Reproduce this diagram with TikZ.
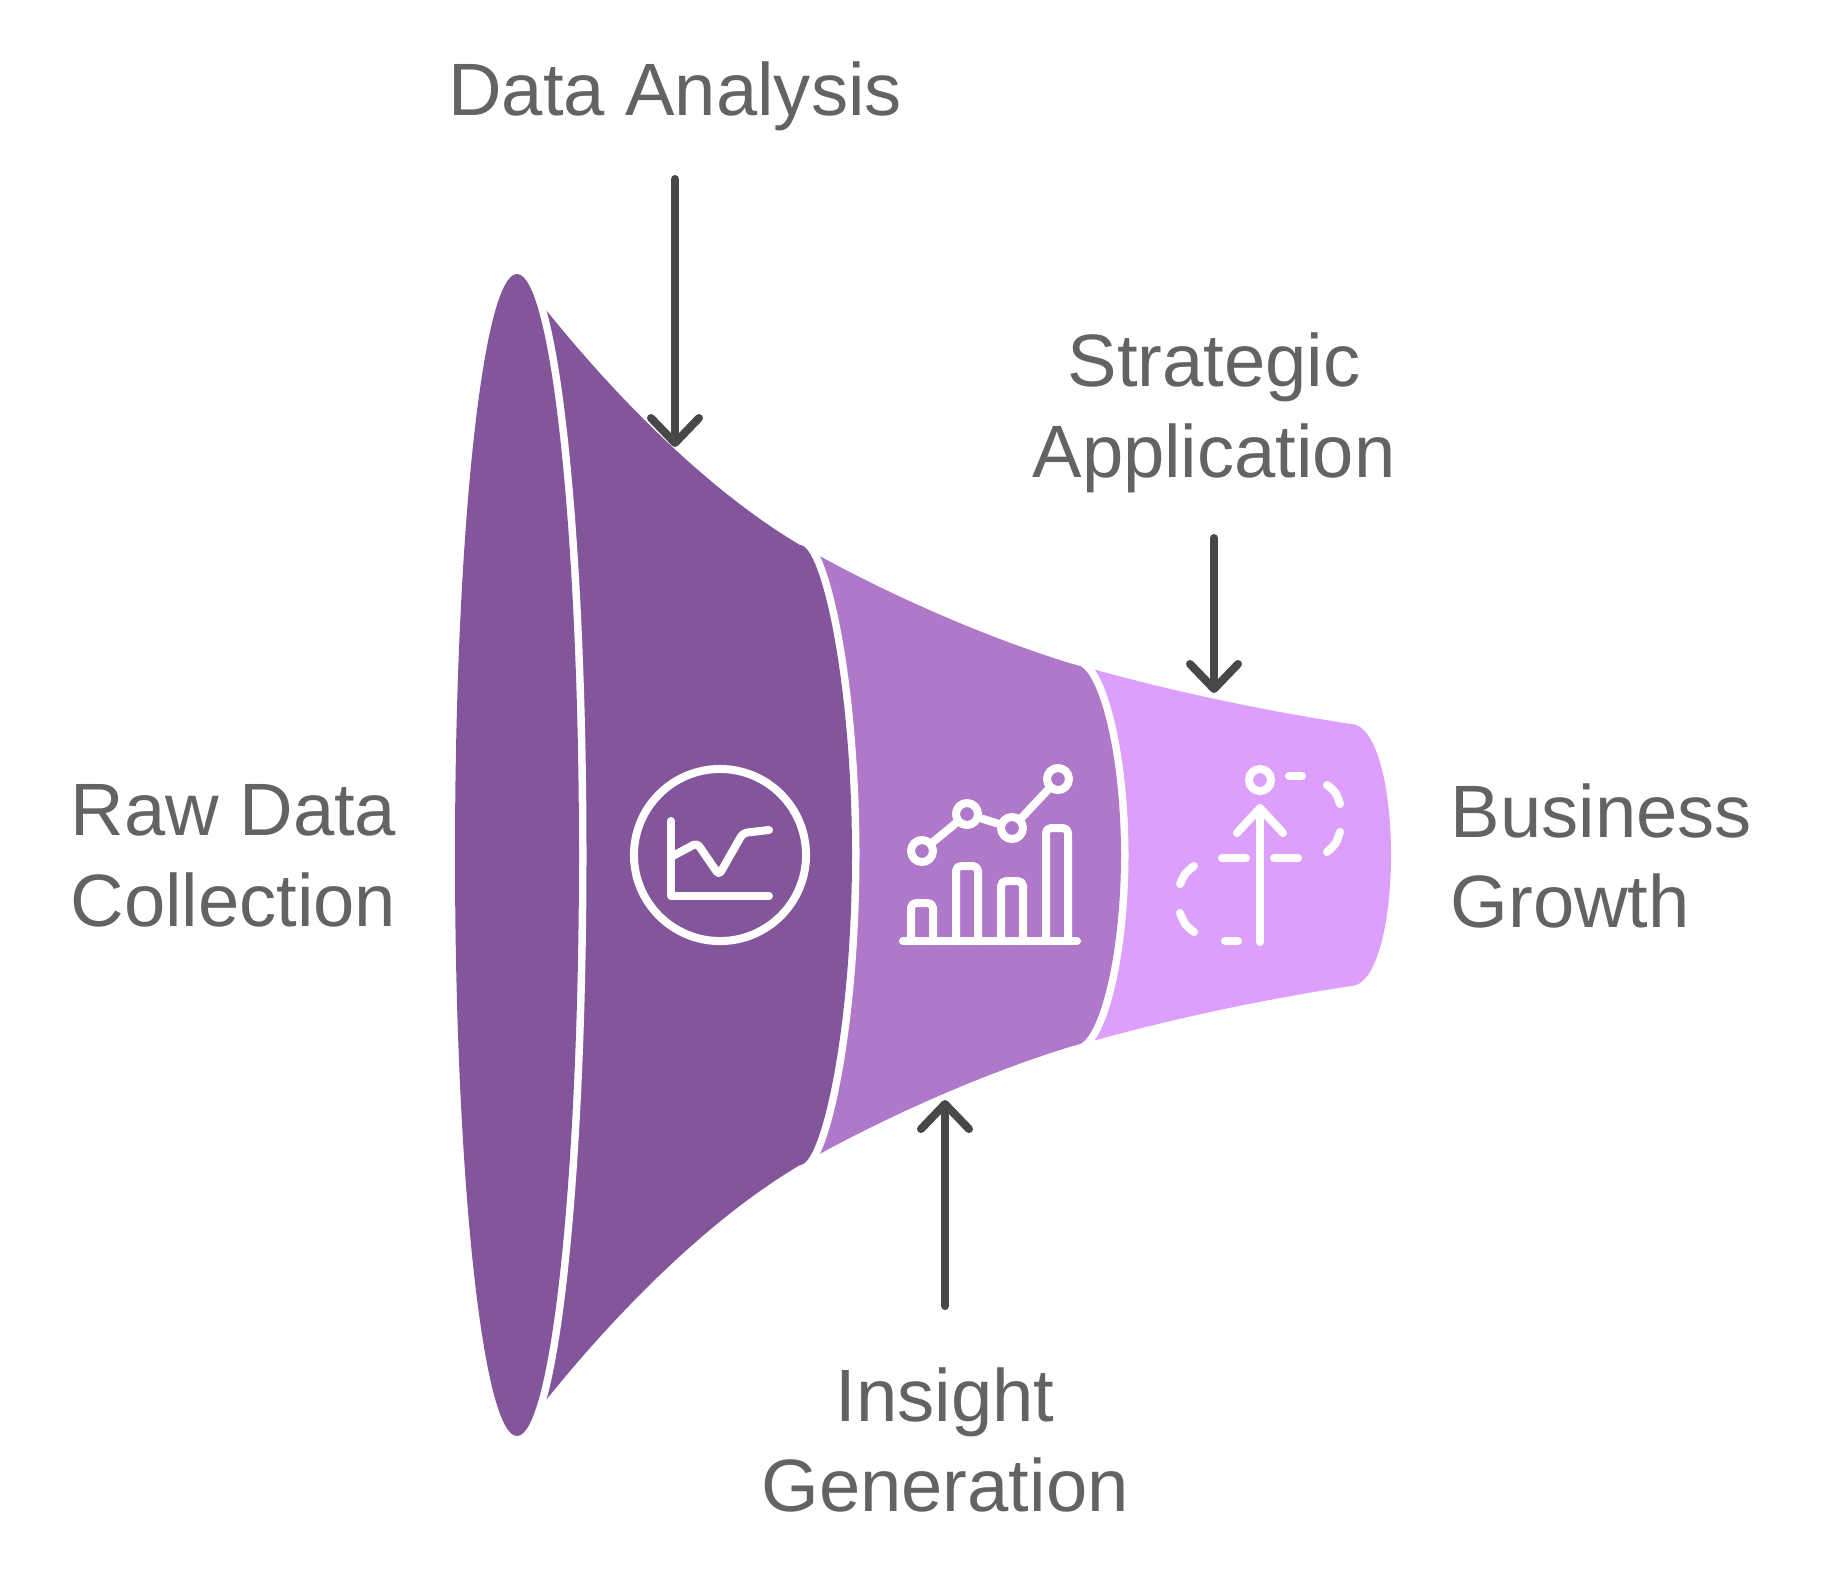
\documentclass[tikz,border=0pt]{standalone}
\usepackage{fontspec}
\setmainfont{Liberation Sans}
\usetikzlibrary{arrows.meta}
\definecolor{funnelA}{HTML}{83559A}
\definecolor{funnelB}{HTML}{AF78C9}
\definecolor{funnelC}{HTML}{DC9FFB}
\definecolor{labeltext}{HTML}{636363}
\definecolor{arrowgray}{HTML}{484848}
\tikzset{
	label text/.style={text=labeltext,inner sep=0pt,font=\fontsize{21.1}{25.8}\selectfont},
	flow/.style={draw=arrowgray,line width=0.08cm,line cap=round,-{Straight Barb[length=0.25cm,width=0.48cm,round]}},
	stripe/.style={draw=white,line width=0.15cm},
	icon/.style={draw=white,line width=0.08cm,line cap=round,line join=round},
	dot/.style={circle,icon,inner sep=0pt,minimum size=0.22cm},
}
\begin{document}
\begin{tikzpicture}[x=0.01cm,y=-0.01cm]
		\useasboundingbox (0,0) rectangle (1845,1575);
		\foreach \xa/\ya/\xb/\yb/\xc/\yc/\xd/\yd/\rx/\k/\col in {
			1075/664/1165/690/1260/710/1351/724/40/0.6/funnelC,
			800/545/850/574/960/630/1076/665/45/0.48/funnelB,
			525/283/585/362/690/480/800/545/52/0.42/funnelA}{
			\draw[stripe] (\xd,\yd) .. controls (\xd+\k*\rx,\yd) and (\xd+\rx,855-0.55*855+0.55*\yd) .. (\xd+\rx,855)
				.. controls (\xd+\rx,855+0.55*855-0.55*\yd) and (\xd+\k*\rx,1710-\yd) .. (\xd,1710-\yd);
			\fill[\col] (\xa,\ya) .. controls (\xb,\yb) and (\xc,\yc) .. (\xd,\yd)
				.. controls (\xd+\k*\rx,\yd) and (\xd+\rx,855-0.55*855+0.55*\yd) .. (\xd+\rx,855)
				.. controls (\xd+\rx,855+0.55*855-0.55*\yd) and (\xd+\k*\rx,1710-\yd) .. (\xd,1710-\yd)
				.. controls (\xc,1710-\yc) and (\xb,1710-\yb) .. (\xa,1710-\ya) -- cycle;}
		\draw[stripe] (517,855) ellipse [x radius=62,y radius=581];
		\fill[funnelA] (517,855) ellipse [x radius=62,y radius=581];

		\node[label text] (analysis) at (675,96) {Data Analysis};
		\node[label text,align=center] (strategic) at (1214,413) {Strategic\\Application};
		\node[label text,align=right,anchor=east] (raw) at (397,856) {Raw Data\\Collection};
		\node[label text,align=left,anchor=west] (business) at (1450,856) {Business\\Growth};
		\node[label text,align=center] (insight) at (945,1440) {Insight\\Generation};

		\coordinate (analysis from) at (675,179);
		\coordinate (analysis to) at (675,447);
		\coordinate (strategic from) at (1214,538);
		\coordinate (strategic to) at (1214,693);
		\coordinate (insight from) at (945,1306);
		\coordinate (insight to) at (945,1100);
		\draw[flow] (analysis from)--(analysis to);
		\draw[flow] (strategic from)--(strategic to);
		\draw[flow] (insight from)--(insight to);

		\node[icon,circle,inner sep=0pt,minimum size=1.72cm] (chart ring) at (720,855) {};
		\draw[icon] (671,821)--(671,896)--(769,896);
		\draw[icon,rounded corners=0.04cm] (671,857)--(697,843)--(719,875)--(743,833)--(769,830);

		\foreach \x/\top in {911/903,956/866,1001/881,1046/828}{
			\draw[icon,rounded corners=0.05cm] (\x,941)--(\x,\top)--(\x+22,\top)--(\x+22,941);}
		\draw[icon] (903,941)--(1077,941);
		\node[dot] (p1) at (922,851) {};
		\node[dot] (p2) at (967,814) {};
		\node[dot] (p3) at (1012,828) {};
		\node[dot] (p4) at (1058,779) {};
		\draw[icon] (p1)--(p2);
		\draw[icon] (p2)--(p3);
		\draw[icon] (p3)--(p4);

		\node[dot] (head) at (1260,780) {};
		\draw[icon] (1260,942)--(1260,808);
		\draw[icon] (1237,833)--(1260,808)--(1283,833);
		\draw[icon] (1222,858)--(1246,858);
		\draw[icon] (1274,858)--(1298,858);
		\draw[icon] (1289,776)--(1302,776);
		\draw[icon] (1225,941)--(1238,941);
		\draw[icon] (1327,785) .. controls (1336,792) .. (1340,804);
		\draw[icon] (1340,832) .. controls (1336,844) .. (1327,852);
		\draw[icon] (1194,866) .. controls (1185,873) .. (1180,884);
		\draw[icon] (1180,913) .. controls (1185,925) .. (1194,932);
\end{tikzpicture}
\end{document}
